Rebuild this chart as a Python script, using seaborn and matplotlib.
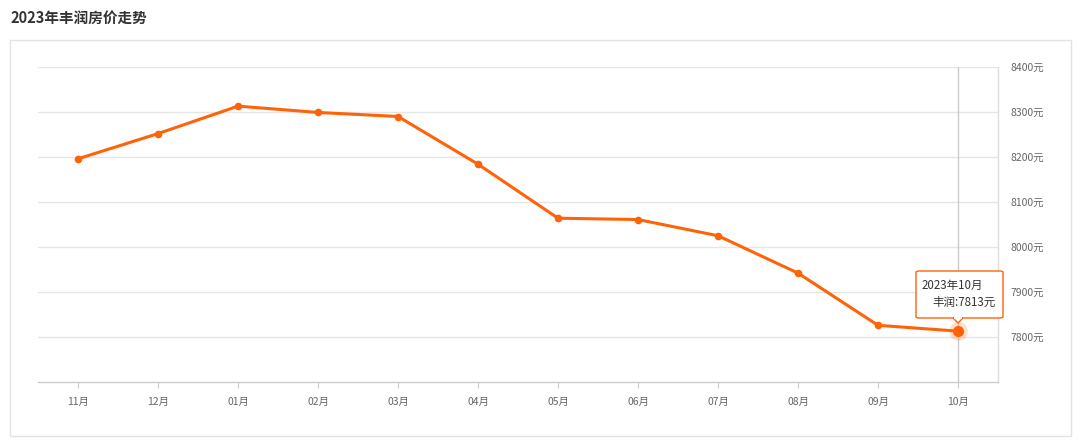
import numpy as np
import pandas as pd
import seaborn as sns
import matplotlib.pyplot as plt
from matplotlib.patches import Rectangle, FancyBboxPatch, Polygon

# 2023年丰润房价 (元/平米)
months = ["11月", "12月", "01月", "02月", "03月", "04月",
          "05月", "06月", "07月", "08月", "09月", "10月"]
prices = [8196, 8252, 8313, 8299, 8290, 8184,
          8064, 8061, 8025, 7942, 7826, 7813]
y_ticks = [7800, 7900, 8000, 8100, 8200, 8300, 8400]

line_color = "#ff6308"

sns.set_theme(style="white")
plt.rcParams["font.family"] = ["Noto Sans CJK SC", "DejaVu Sans"]

df = pd.DataFrame({"month": months, "price": prices})

fig = plt.figure(figsize=(10.8, 4.45), dpi=100)
ax = fig.add_axes([38 / 1080, 63 / 445, 960 / 1080, 315 / 445])

# outer frame + title
fig.patches.append(Rectangle((10 / 1080, 9 / 445), 1061 / 1080, 396 / 445,
                             transform=fig.transFigure, fill=False,
                             edgecolor="#e3e3e3", linewidth=1))
fig.text(10 / 1080, 1 - 18 / 445, "2023年丰润房价走势", fontsize=10.5,
         fontweight="bold", color="#333333", va="center", ha="left")

sns.lineplot(data=df, x="month", y="price", sort=False, ax=ax,
             color=line_color, linewidth=2.2, marker="o", markersize=5.5,
             markeredgewidth=0)

ax.set_xlim(-0.5, len(months) - 0.5)
ax.set_ylim(7700, 8400)
ax.set_yticks(y_ticks)
ax.set_yticklabels([f"{v}元" for v in y_ticks])
ax.yaxis.tick_right()
ax.set_xlabel("")
ax.set_ylabel("")

ax.grid(axis="y", color="#e6e6e6", linewidth=1)
ax.grid(axis="x", visible=False)
for side in ["left", "top"]:
    ax.spines[side].set_visible(False)
ax.spines["right"].set_color("#dddddd")
ax.spines["bottom"].set_color("#cccccc")
ax.spines["right"].set_linewidth(1)
ax.spines["bottom"].set_linewidth(1)

ax.tick_params(axis="y", length=0, pad=9, labelsize=7.5, labelcolor="#666666")
ax.tick_params(axis="x", bottom=True, length=4, width=0.8, color="#cccccc",
               pad=7, labelsize=7.5, labelcolor="#666666")

# hover crosshair on last point
last = len(months) - 1
ax.axvline(last, color="#cccccc", linewidth=1, zorder=1)
ax.scatter([last], [prices[last]], s=180, color=line_color, alpha=0.2,
           linewidths=0, zorder=4)
ax.scatter([last], [prices[last]], s=65, color=line_color, linewidths=0,
           zorder=5)

# tooltip
tx0, tx1 = 916 / 1080, 1003 / 1080
ty0, ty1 = 1 - 318 / 445, 1 - 271 / 445
box = FancyBboxPatch((tx0, ty0), tx1 - tx0, ty1 - ty0,
                     boxstyle="round,pad=0,rounding_size=0.003",
                     transform=fig.transFigure, facecolor="white",
                     edgecolor=line_color, linewidth=1, zorder=10)
fig.patches.append(box)
cx = 958 / 1080
tri = Polygon([(cx - 5 / 1080, ty0), (cx + 5 / 1080, ty0), (cx, ty0 - 5 / 445)],
              closed=True, transform=fig.transFigure, facecolor="white",
              edgecolor=line_color, linewidth=1, zorder=10)
fig.patches.append(tri)
fig.patches.append(Rectangle((cx - 4 / 1080, ty0 - 0.5 / 445), 8 / 1080, 1.5 / 445,
                             transform=fig.transFigure, facecolor="white",
                             edgecolor="none", zorder=11))
fig.text(922 / 1080, 1 - 285 / 445, "2023年10月", fontsize=8.3,
         color="#333333", va="center", ha="left", zorder=12)
fig.text(996 / 1080, 1 - 302 / 445, f"丰润:{prices[last]}元", fontsize=8.3,
         color="#333333", va="center", ha="right", zorder=12)

fig.savefig("out.png", dpi=100)
